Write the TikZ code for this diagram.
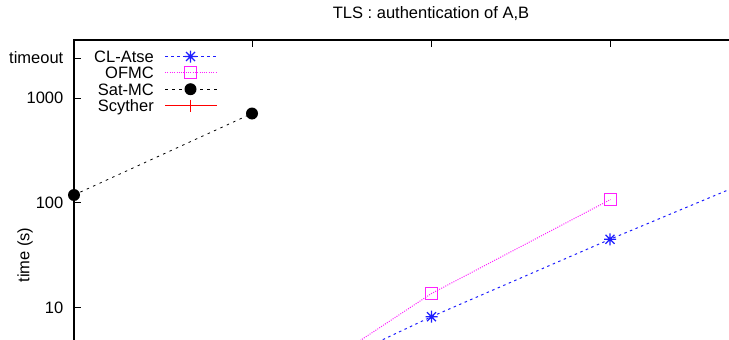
\documentclass[tikz,border=0pt]{standalone}
\usepackage{fontspec}
\setmainfont{Liberation Sans}
\definecolor{atseblue}{RGB}{30,30,255}
\definecolor{ofmcpink}{RGB}{255,30,255}
\definecolor{scyred}{RGB}{255,0,0}
\definecolor{ink}{RGB}{0,0,0}
\begin{document}
\begin{tikzpicture}[x=1pt,y=-1pt,
  every node/.style={font=\fontsize{16.5}{18}\selectfont, inner sep=0pt, text=ink},
  axisline/.style={line width=1.6pt, draw=ink},
  tickline/.style={line width=0.9pt, draw=ink},
  clatse/.style={line width=1pt, draw=atseblue, dash pattern=on 2.5pt off 3.5pt},
  ofmc/.style={line width=1pt, draw=ofmcpink, dash pattern=on 1pt off 1.3pt},
  satmc/.style={line width=0.8pt, draw=ink, dash pattern=on 2.5pt off 4.5pt},
  scyther/.style={line width=1.4pt, draw=scyred},
  ylabel/.style={anchor=base east},
  keylabel/.style={anchor=base east},
  astmark/.pic={\draw[line width=1.2pt, solid, draw=atseblue]
      (-6,0)--(6,0) (0,-6)--(0,6) (-4.5,-4.5)--(4.5,4.5) (-4.5,4.5)--(4.5,-4.5);},
  sqmark/.pic={\draw[line width=1.4pt, solid, draw=ofmcpink] (-6,-6) rectangle (6,6);},
  dotmark/.pic={\fill[fill=ink] (0,0) circle (6);},
  plusmark/.pic={\draw[line width=1.4pt, solid, draw=scyred] (-6,0)--(6,0) (0,-6)--(0,6);}
]
\useasboundingbox (0,0) rectangle (729,340);
\clip (0,0) rectangle (729,340);

% frame corners
\coordinate (origin) at (74,40);
\coordinate (topend) at (740,40);
\coordinate (leftend) at (74,350);

% title and axis label
\node[anchor=base] (title) at (431,18.7) {TLS : authentication of A,B};
\node[rotate=90] (ylab) at (25,255) {time (s)};

% y tick labels
\node[ylabel] (ltimeout) at (63.5,63.8) {timeout};
\node[ylabel] (l1000) at (63.5,103.6) {1000};
\node[ylabel] (l100) at (63.5,208.4) {100};
\node[ylabel] (l10) at (63.5,313) {10};

% ticks
\foreach \yy in {58,98,202.7,307.3} \draw[tickline] (74,\yy) -- (81,\yy);
\foreach \xx in {252,431.5,610} \draw[tickline] (\xx,40) -- (\xx,47);

% data points
\coordinate (s1) at (74,195);
\coordinate (s2) at (252,113.5);
\coordinate (o0) at (252.5,411.5);
\coordinate (o1) at (431.5,293.5);
\coordinate (o2) at (610.5,199.5);
\coordinate (c0) at (252.5,401);
\coordinate (c1) at (431.5,316.7);
\coordinate (c2) at (610,239.3);
\coordinate (c3) at (789,164.5);

% curves
\draw[satmc] (s1) -- (s2);
\draw[ofmc] (o0) -- (o1) -- (o2);
\draw[clatse] (c0) -- (c1) -- (c2) -- (c3);

% markers
\pic at (o1) {sqmark};
\pic at (o2) {sqmark};
\pic at (c1) {astmark};
\pic at (c2) {astmark};
\pic at (s1) {dotmark};
\pic at (s2) {dotmark};

% legend
\node[keylabel] (kclatse) at (154,62.3) {CL-Atse};
\node[keylabel] (kofmc) at (154,78.6) {OFMC};
\node[keylabel] (ksatmc) at (154,95) {Sat-MC};
\node[keylabel] (kscyther) at (154,111.6) {Scyther};
\coordinate (ka1) at (165,56.5);  \coordinate (ka2) at (217,56.5);
\coordinate (kb1) at (165,72.5);  \coordinate (kb2) at (217,72.5);
\coordinate (kc1) at (165,89.2);  \coordinate (kc2) at (217,89.2);
\coordinate (kd1) at (165,105.5); \coordinate (kd2) at (217,105.5);
\draw[scyther] (kd1) -- (kd2);
\draw[clatse] (ka1) -- (ka2);
\draw[ofmc] (kb1) -- (kb2);
\draw[satmc] (kc1) -- (kc2);
\pic at (190.5,56.5) {astmark};
\pic at (190.5,72.5) {sqmark};
\pic at (190.5,105.5) {plusmark};
\pic at (190.5,89.2) {dotmark};

% axes frame
\draw[axisline] (leftend) -- (origin) -- (topend);
\end{tikzpicture}
\end{document}
